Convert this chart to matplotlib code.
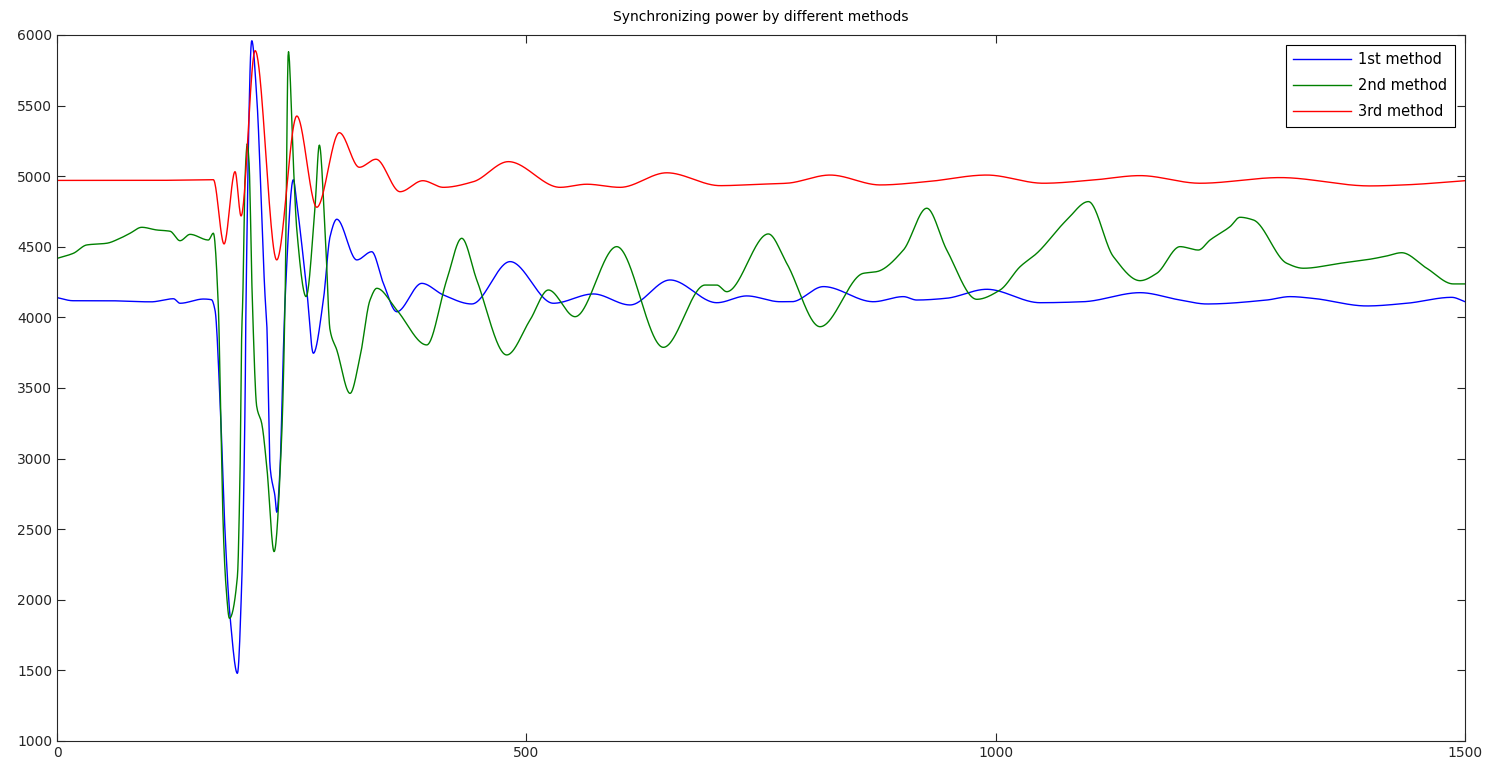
import numpy as np
import matplotlib.pyplot as plt

# points (time, power)
t1 = [0, 17, 53, 100, 124, 131, 156, 164.5, 168.3, 173.6, 179, 184.3, 192.1, 196.7, 200.3,
      201.3, 207.4, 212.7, 221.6, 223.4, 226.9, 232.2, 234, 237.6, 241, 242.9, 251.7, 255.4,
      266, 273, 283.7, 290.8, 298, 319.3, 335.2, 347.6, 361.9, 388.5, 411.5, 441.8, 482.6,
      528.7, 571.3, 610.4, 653, 702.8, 734.7, 770.2, 782.6, 816.4, 869.6, 901.6, 915.8, 947,
      990.4, 1047.2, 1093.3, 1153.7, 1196.3, 1224.8, 1288.7, 1313.5, 1337.6, 1395.2, 1437.9,
      1485.8, 1500]
p1 = [4140, 4118, 4118, 4110, 4132, 4100, 4130, 4125, 4050, 3415, 2471, 1880, 1479, 2117, 3415,
      4123, 5960, 5563, 4147, 3958, 2943, 2730, 2620, 2943, 3746, 4123, 4975, 4808,
      4194, 3746, 4123, 4572, 4695, 4407, 4465, 4241, 4040, 4241, 4159, 4095, 4395,
      4100, 4166, 4088, 4265, 4104, 4152, 4111, 4111, 4218, 4111, 4147, 4123, 4135,
      4199, 4104, 4111, 4175, 4123, 4095, 4123, 4147, 4135, 4081, 4100,
      4142, 4111]

t2 = [0, 17.4, 31.6, 52.9, 67.1, 77.8, 90.2, 106.2, 120.4, 131, 141.7, 161.2, 166.5, 171.8,
      174.4, 177.2, 180, 183.6, 192.1, 195, 196.7, 197.8, 200.3, 202.7, 204.5, 208, 212.7, 218,
      223.4, 231.2, 239.4, 242.9, 246.4, 251.7, 255.4, 265.3, 274.8, 279.4, 285.5, 290.8,
      298, 312.1, 322.8, 333.4, 340.6, 361.9, 393.8, 415.1, 431.1, 447.1, 479, 503.9,
      523.4, 551.8, 596.2, 645.9, 690.3, 702.8, 713.4, 757.7, 777.3, 812.8, 858.9, 873.2,
      901.6, 926.5, 947.8, 979.8, 1004.6, 1025.9, 1043.7, 1075.6, 1098.7, 1125.3, 1153.7,
      1171.5, 1196.3, 1215.8, 1228.3, 1249.6, 1260.2, 1274.4, 1310, 1327.7, 1366.8,
      1398.7, 1416.5, 1432.4, 1459.1, 1487.4, 1500]
p2 = [4418, 4454, 4513, 4525, 4560, 4596, 4638, 4619, 4610, 4543, 4588, 4548, 4596, 4076,
      3297, 2471, 2093, 1869, 2163, 2943, 3887, 4123, 5000, 5230, 5100, 4123, 3368, 3250,
      2943, 2341, 3179, 4123, 5883, 5091, 4619, 4147, 4784, 5221, 4619, 3911,
      3769, 3462, 3722, 4123, 4206, 4052, 3805, 4265, 4560, 4265, 3734, 3982,
      4194, 4005, 4501, 3788, 4229, 4229, 4182, 4591, 4383, 3934, 4312, 4324,
      4477, 4773, 4477, 4128, 4194, 4359, 4454, 4690, 4820, 4430, 4260,
      4312, 4501, 4477, 4548, 4643, 4709, 4690, 4383, 4348, 4383,
      4412, 4435, 4458, 4348, 4237, 4237]

t3 = [0, 100, 166.5, 177.9, 189.6, 196, 211, 234, 255.4, 276.7, 300.7, 322, 339.8, 365.4,
      389.6, 411.5, 443.5, 480.8, 535.8, 564.3, 599.8, 649.5, 706.3, 749, 777.3, 823.5,
      876.8, 926.5, 990.4, 1050.7, 1104, 1153.7, 1217.6, 1302.9, 1398.7, 1437.9, 1500]
p3 = [4970, 4970, 4975, 4520, 5032, 4718, 5889, 4407, 5426, 4780, 5308, 5063, 5120, 4890,
      4968, 4921, 4961, 5103, 4921, 4943, 4921, 5024, 4933, 4943, 4950, 5008,
      4938, 4961, 5008, 4950, 4973, 5004, 4950, 4990, 4931, 4939, 4968]


# smooth curve through the read points (monotone cubic, PCHIP-like)
def smooth(t, p):
    t = np.asarray(t, float)
    p = np.asarray(p, float)
    tt = np.linspace(t[0], t[-1], 3000)
    h = np.diff(t)
    d = np.diff(p) / h
    m = np.zeros_like(p)
    for i in range(1, len(p) - 1):
        if d[i - 1] * d[i] > 0:
            w1 = 2 * h[i] + h[i - 1]
            w2 = h[i] + 2 * h[i - 1]
            m[i] = (w1 + w2) / (w1 / d[i - 1] + w2 / d[i])
    m[0] = d[0]
    m[-1] = d[-1]
    idx = np.clip(np.searchsorted(t, tt) - 1, 0, len(h) - 1)
    s = (tt - t[idx]) / h[idx]
    h00 = 2 * s**3 - 3 * s**2 + 1
    h10 = s**3 - 2 * s**2 + s
    h01 = -2 * s**3 + 3 * s**2
    h11 = s**3 - s**2
    pp = h00 * p[idx] + h10 * h[idx] * m[idx] + h01 * p[idx + 1] + h11 * h[idx] * m[idx + 1]
    return tt, pp


fig = plt.figure(figsize=(14.9, 7.67), dpi=100)
ax = fig.add_axes([0.0383, 0.0339, 0.945, 0.9205])

ax.plot(*smooth(t1, p1), color=(0, 0, 1), lw=1.0, label='1st method')
ax.plot(*smooth(t2, p2), color=(0, 0.5, 0), lw=1.0, label='2nd method')
ax.plot(*smooth(t3, p3), color=(1, 0, 0), lw=1.0, label='3rd method')

ax.set_xlim(0, 1500)
ax.set_ylim(1000, 6000)
ax.set_xticks([0, 500, 1000, 1500])
ax.set_yticks(np.arange(1000, 6001, 500))
ax.tick_params(direction='in', top=True, right=True, length=6, labelsize=10, colors='#262626')
for s in ax.spines.values():
    s.set_color('#262626')
ax.set_title('Synchronizing power by different methods', fontsize=10, pad=10)
leg = ax.legend(loc='upper right', fontsize=10.5, fancybox=False, edgecolor='black',
                framealpha=1, borderaxespad=0.7, handlelength=4.0, labelspacing=0.75,
                borderpad=0.5, handletextpad=0.5)
leg.get_frame().set_linewidth(0.8)
plt.savefig('out.png')
